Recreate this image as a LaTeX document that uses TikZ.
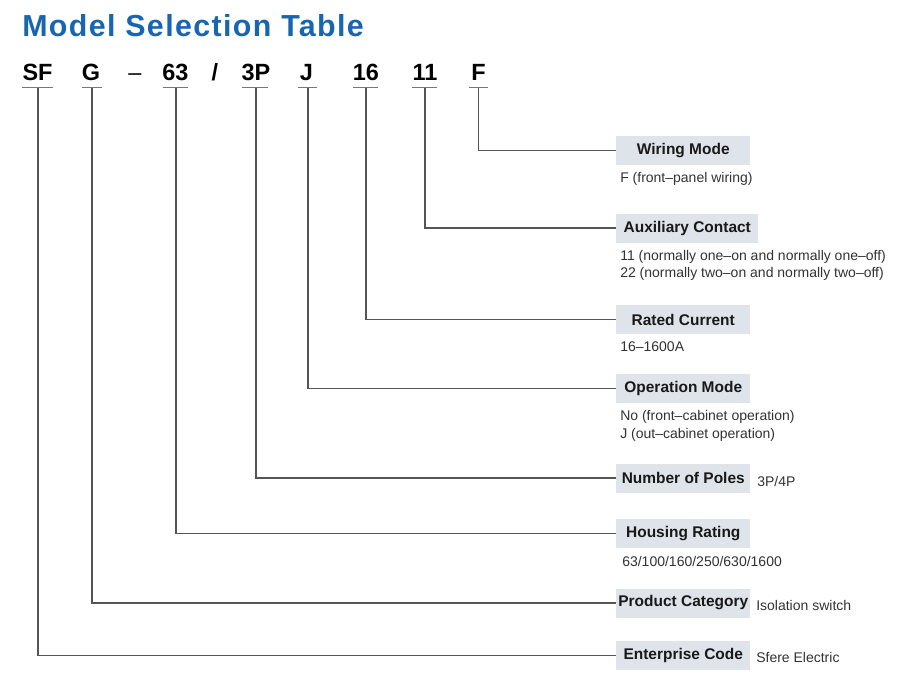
\documentclass[tikz,border=0pt]{standalone}
\usepackage{fontspec}
\setmainfont{Liberation Sans}
\definecolor{titleblue}{RGB}{24,102,178}
\definecolor{boxfill}{RGB}{222,228,234}
\definecolor{linegray}{RGB}{85,85,85}
\definecolor{desc}{RGB}{50,50,50}
\begin{document}
\begin{tikzpicture}[x=0.75pt,y=-0.75pt,
  code/.style={font=\fontsize{17.6}{20}\selectfont\bfseries, text=black, inner sep=0pt, anchor=base},
  label/.style={font=\fontsize{11.6}{14}\selectfont\bfseries, text=black!90, fill=boxfill, minimum width=100.5pt, minimum height=21.75pt, inner sep=0pt, anchor=west},
  descr/.style={font=\fontsize{10.5}{13}\selectfont, text=desc, inner sep=0pt, anchor=west, align=left},
  conn/.style={draw=linegray, line width=0.9pt},
  uline/.style={draw=linegray!80, line width=0.9pt}]
\useasboundingbox (0,0) rectangle (900,679);
% title
\node[font=\fontsize{22.8}{26}\selectfont\bfseries\addfontfeature{LetterSpace=4.5}, text=titleblue, anchor=base west, inner sep=0pt] (title) at (22,36) {Model Selection Table};
% code letters
\node[code] (cSF) at (37.5,80) {SF};
\node[code] (cG) at (91,80) {G};
\node[code, font=\fontsize{17.6}{20}\selectfont] (cdash) at (135,80) {–};
\node[code] (c63) at (175.5,80) {63};
\node[code] (cslash) at (215,80) {/};
\node[code] (c3P) at (256,80) {3P};
\node[code] (cJ) at (306.5,80) {J};
\node[code] (c16) at (366,80) {16};
\node[code] (c11) at (425,80) {11};
\node[code] (cF) at (478.5,80) {F};
% underlines
\draw[uline] (22,87.5) -- (53,87.5);
\draw[uline] (82,87.5) -- (102,87.5);
\draw[uline] (163,87.5) -- (188,87.5);
\draw[uline] (242,87.5) -- (268,87.5);
\draw[uline] (298,87.5) -- (317,87.5);
\draw[uline] (353,87.5) -- (378,87.5);
\draw[uline] (412,87.5) -- (437,87.5);
\draw[uline] (469,87.5) -- (488,87.5);
\coordinate (uSF) at (38,87.5);
\coordinate (uG) at (92,87.5);
\coordinate (u63) at (176,87.5);
\coordinate (u3P) at (256,87.5);
\coordinate (uJ) at (308,87.5);
\coordinate (u16) at (366,87.5);
\coordinate (u11) at (425,87.5);
\coordinate (uF) at (478.5,87.5);
% boxes
\node[label] (bWir) at (616,150.5) {Wiring Mode};
\node[label, minimum width=106.5pt] (bAux) at (616,228) {Auxiliary Contact};
\node[label] (bRat) at (616,319.5) {Rated Current};
\node[label] (bOpe) at (616,388.5) {Operation Mode};
\node[label] (bPol) at (616,478) {Number of Poles};
\node[label] (bHou) at (616,533.5) {Housing Rating};
\node[label] (bPro) at (616,603) {Product Category};
\node[label] (bEnt) at (616,655.5) {Enterprise Code};
% connectors
\draw[conn] (uF) |- (bWir.west);
\draw[conn] (u11) |- (bAux.west);
\draw[conn] (u16) |- (bRat.west);
\draw[conn] (uJ) |- (bOpe.west);
\draw[conn] (u3P) |- (bPol.west);
\draw[conn] (u63) |- (bHou.west);
\draw[conn] (uG) |- (bPro.west);
\draw[conn] (uSF) |- (bEnt.west);
% descriptions
\node[descr] (dWir) at (620,178.5) {F (front–panel wiring)};
\node[descr] (dAux1) at (620,256.5) {11 (normally one–on and normally one–off)};
\node[descr] (dAux2) at (620,273.5) {22 (normally two–on and normally two–off)};
\node[descr] (dRat) at (620,346.5) {16–1600A};
\node[descr] (dOpe1) at (620,416.5) {No (front–cabinet operation)};
\node[descr] (dOpe2) at (620,434.5) {J (out–cabinet operation)};
\node[descr] (dPol) at (757,481) {3P/4P};
\node[descr] (dHou) at (622,561.5) {63/100/160/250/630/1600};
\node[descr] (dPro) at (756,605) {Isolation switch};
\node[descr] (dEnt) at (756,657) {Sfere Electric};
\end{tikzpicture}
\end{document}
